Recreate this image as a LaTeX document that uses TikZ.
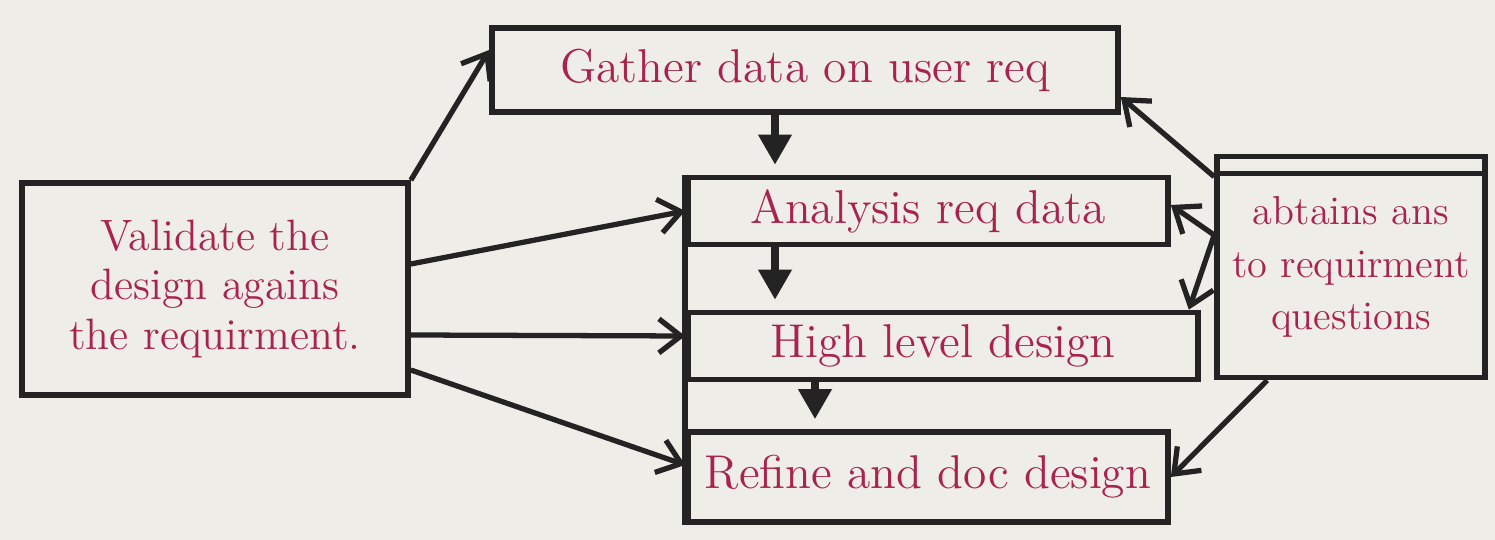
\documentclass[tikz,border=0pt]{standalone}
\usetikzlibrary{arrows.meta}

\definecolor{inkred}{RGB}{168,36,76}
\definecolor{penblack}{RGB}{35,35,35}
\definecolor{paper}{RGB}{238,237,232}

\tikzset{
    box/.style={draw=penblack, line width=1.6pt, text=inkred, inner sep=0pt, align=center, font=\fontsize{13.5}{16}\selectfont},
    flow/.style={draw=penblack, line width=1.5pt, -{Straight Barb[length=2.2mm,width=3.4mm]}},
    down/.style={draw=penblack, line width=2pt, -{Triangle[length=3mm,width=3.2mm]}, shorten >=1mm}
}

\begin{document}
\begin{tikzpicture}
        % Paper
        \fill[paper] (0,0) rectangle (14.95,5.4);

        % Main column
        \node[box, minimum width=6.26cm, minimum height=0.84cm] (gat) at (8.05,4.70) {Gather data on user req};
        \node[box, minimum width=4.80cm, minimum height=0.67cm] (ana) at (9.28,3.29) {Analysis req data};
        \node[box, minimum width=5.10cm, minimum height=0.67cm] (hig) at (9.43,1.94) {High level design};
        \node[box, minimum width=4.80cm, minimum height=0.90cm] (ref) at (9.28,0.63) {Refine and doc design};
        \draw[penblack, line width=1.6pt] (ana.north west) -- (ref.south west);

        % Side boxes
        \node[box, minimum width=3.86cm, minimum height=2.12cm, font=\fontsize{12.5}{14}\selectfont] (val) at (2.15,2.51) {Validate the\\design agains\\the requirment.};
        \node[box, minimum width=2.68cm, minimum height=2.21cm, font=\fontsize{11.5}{15}\selectfont] (obt) at (13.51,2.73) {abtains ans\\to requirment\\questions};
        \draw[penblack, line width=1.6pt] ([yshift=-0.2cm]obt.north west) -- ([yshift=-0.2cm]obt.north east);

        % Down the column
        \draw[down] ([xshift=-0.3cm]gat.south) -- ([xshift=-0.3cm]gat.south |- ana.north);
        \draw[down] ([xshift=-1.53cm]ana.south) -- ([xshift=-1.53cm]ana.south |- hig.north);
        \draw[down] ([xshift=-1.28cm]hig.south) -- ([xshift=-1.28cm]hig.south |- ref.north);

        % From the validation box
        \draw[flow] (val.north east) -- ([yshift=0.2cm]gat.west);
        \draw[flow] ([yshift=0.25cm]val.east) -- (ana.west);
        \draw[flow] ([yshift=-0.46cm]val.east) -- ([yshift=0.1cm]hig.west);
        \draw[flow] ([yshift=-0.81cm]val.east) -- ([yshift=0.12cm]ref.west);

        % From the answers box
        \draw[flow] ([yshift=-0.23cm]obt.north west) -- ([yshift=-0.27cm]gat.east);
        \draw[flow] ([yshift=0.32cm]obt.west) -- ([yshift=0.06cm]ana.east);
        \draw[flow] ([yshift=0.32cm]obt.west) -- ([xshift=-0.12cm]hig.north east);
        \draw[flow] ([xshift=0.53cm]obt.south west) -- (ref.east);
    \end{tikzpicture}
\end{document}
